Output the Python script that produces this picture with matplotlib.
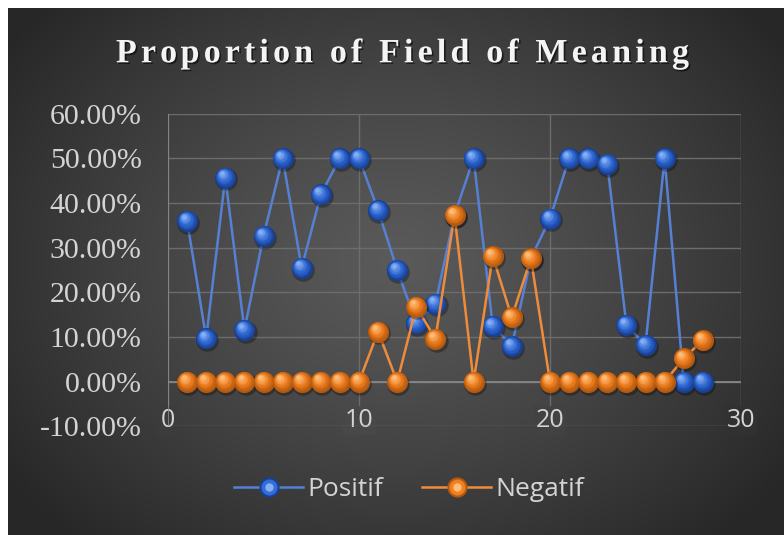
import numpy as np
import matplotlib
matplotlib.use("Agg")
import matplotlib.pyplot as plt
import matplotlib.patheffects as pe
from matplotlib.lines import Line2D
from matplotlib.legend_handler import HandlerTuple
from matplotlib.transforms import offset_copy
from matplotlib.ticker import PercentFormatter

plt.rcParams["axes.unicode_minus"] = False

# data (percent)
x_vals = list(range(1, 29))
positif = [36.0, 9.7, 45.7, 11.6, 32.6, 50.0, 25.5, 41.9, 50.0, 50.0,
           38.4, 25.0, 13.1, 17.5, 37.3, 50.0, 12.5, 8.0, 27.6, 36.5,
           50.0, 50.0, 48.7, 12.7, 8.2, 50.0, 0.0, 0.0]
negatif = [0.0, 0.0, 0.0, 0.0, 0.0, 0.0, 0.0, 0.0, 0.0, 0.0,
           11.2, 0.0, 16.8, 9.6, 37.3, 0.0, 28.1, 14.4, 27.6, 0.0,
           0.0, 0.0, 0.0, 0.0, 0.0, 0.0, 5.2, 9.3]
series_names = ["Positif", "Negatif"]
title = "Proportion of Field of Meaning"
x_ticks = [0, 10, 20, 30]
y_ticks = [-10, 0, 10, 20, 30, 40, 50, 60]

W, H = 784, 535
fig = plt.figure(figsize=(W / 100, H / 100), dpi=100, facecolor="white")

# dark radial background (leaves a thin white strip top and left)
bx0, by1 = 8 / W, 1 - 8 / H
bg = fig.add_axes([bx0, 0, 1 - bx0, by1])
bg.set_axis_off()
c_center = np.array([0x5a, 0x5a, 0x5a]) / 255
c_edge = np.array([0x27, 0x27, 0x27]) / 255


def bg_color(u, v):
    # u, v in background-axes fractions
    r = np.sqrt(((u - 0.5) / 0.62) ** 2 + ((v - 0.52) / 0.72) ** 2)
    t = np.clip(r, 0, 1) ** 1.2
    return c_center * (1 - t[..., None]) + c_edge * t[..., None]


uu, vv = np.meshgrid(np.linspace(0, 1, 400), np.linspace(0, 1, 300))
bg.imshow(bg_color(uu, vv), extent=[0, 1, 0, 1], origin="lower", aspect="auto")
bg.set_xlim(0, 1)
bg.set_ylim(0, 1)

# plot area
left, right = 168 / W, 741 / W
top, bottom = 1 - 113.6 / H, 1 - 426.4 / H
ax = fig.add_axes([left, bottom, right - left, top - bottom])
ax.set_facecolor("none")
ax.set_xlim(0, 30)
ax.set_ylim(-10, 60)
ax.set_xticks(x_ticks)
ax.set_yticks(y_ticks)
ax.yaxis.set_major_formatter(PercentFormatter(100, decimals=2))
for s in ax.spines.values():
    s.set_visible(False)
ax.grid(True, color="#6c6c6c", lw=1.0, zorder=0)
ax.set_axisbelow(True)
ax.axhline(0, color="#8a8a8a", lw=1.2, zorder=1)
ax.axvline(0, color="#8a8a8a", lw=1.2, zorder=1)

ax.tick_params(axis="y", length=0, pad=19, labelcolor="#d4d4d4", labelsize=21.5)
ax.tick_params(axis="x", length=0, pad=-13, labelcolor="#d4d4d4", labelsize=18)
for lab in ax.get_yticklabels():
    lab.set_fontfamily("Liberation Serif")
for lab, xv in zip(ax.get_xticklabels(), x_ticks):
    lab.set_fontfamily("Open Sans")
    u = (left + (right - left) * xv / 30 - bx0) / (1 - bx0)
    v = (bottom + 0.01) / by1
    col = bg_color(np.array(u), np.array(v))
    lab.set_bbox(dict(facecolor=col, edgecolor="none", pad=1.5))


def spheres(xs, ys, base, dark, light, z, ms=15.2):
    shadow = offset_copy(ax.transData, fig=fig, x=0.8, y=-1.3, units="points")
    ax.plot(xs, ys, "o", ms=ms + 1, mfc="black", mec="none", alpha=0.3,
            transform=shadow, zorder=z)
    n = 8
    for i in range(n):
        f = i / (n - 1)
        if f <= 0.5:
            col = dark * (1 - 2 * f) + base * 2 * f
        else:
            col = base * (1 - (f - 0.5) * 2) + light * (f - 0.5) * 2
        size = ms * (1 - 0.8 * f)
        tr = offset_copy(ax.transData, fig=fig, x=-2.5 * f, y=3.1 * f, units="points")
        ax.plot(xs, ys, "o", ms=size, mfc=col, mec="none", transform=tr, zorder=z + 0.01 * i)


blue_line = "#5580d4"
orange_line = "#ef8c3c"
blue = (np.array([0x33, 0x6e, 0xd8]) / 255, np.array([0x18, 0x40, 0x96]) / 255,
        np.array([0x86, 0xae, 0xf2]) / 255)
orange = (np.array([0xf0, 0x80, 0x22]) / 255, np.array([0xb4, 0x58, 0x0e]) / 255,
          np.array([0xfc, 0xbe, 0x7a]) / 255)

ax.plot(x_vals, positif, color=blue_line, lw=1.8, zorder=3)
spheres(x_vals, positif, *blue, z=4)
ax.plot(x_vals, negatif, color=orange_line, lw=1.8, zorder=5)
spheres(x_vals, negatif, *orange, z=6)


# legend
def legend_handle(line_col, base, dark, light):
    return (Line2D([], [], color=line_col, lw=1.8),
            Line2D([], [], ls="none", marker="o", ms=14.5, mfc=dark, mec="none"),
            Line2D([], [], ls="none", marker="o", ms=11.5, mfc=base, mec="none"),
            Line2D([], [], ls="none", marker="o", ms=6, mfc=light, mec="none"))


handles = [legend_handle(blue_line, *blue), legend_handle(orange_line, *orange)]
leg = fig.legend(handles, series_names, loc="center", bbox_to_anchor=(409 / W, 1 - 490 / H),
                 ncol=2, frameon=False, handlelength=2.6, handletextpad=0.15,
                 columnspacing=1.5, prop={"family": "Open Sans", "size": 19},
                 handler_map={tuple: HandlerTuple(ndivide=1, pad=0)})
for t in leg.get_texts():
    t.set_color("#d4d4d4")

# letter-spaced title
fig.canvas.draw()
renderer = fig.canvas.get_renderer()
tprops = dict(family="Liberation Serif", weight="bold", size=24.5, color="#f4f4f4")


def text_w(s):
    if not s:
        return 0.0
    tt = fig.text(0, 0, s + "|", **tprops)
    bar = fig.text(0, 0, "|", **tprops)
    w = tt.get_window_extent(renderer).width - bar.get_window_extent(renderer).width
    tt.remove()
    bar.remove()
    return w


x_start, x_end = 116, 689
natural = text_w(title)
track = (x_end - x_start - natural) / (len(title) - 1)
shadow_fx = [pe.withSimplePatchShadow(offset=(1.2, -1.2), shadow_rgbFace="black", alpha=0.55)]
for i, ch in enumerate(title):
    if ch == " ":
        continue
    px = x_start + text_w(title[:i]) + track * i
    fig.text(px / W, 1 - 62.3 / H, ch, ha="left", va="baseline",
             path_effects=shadow_fx, **tprops)

fig.savefig("out.png", dpi=100, facecolor=fig.get_facecolor())
